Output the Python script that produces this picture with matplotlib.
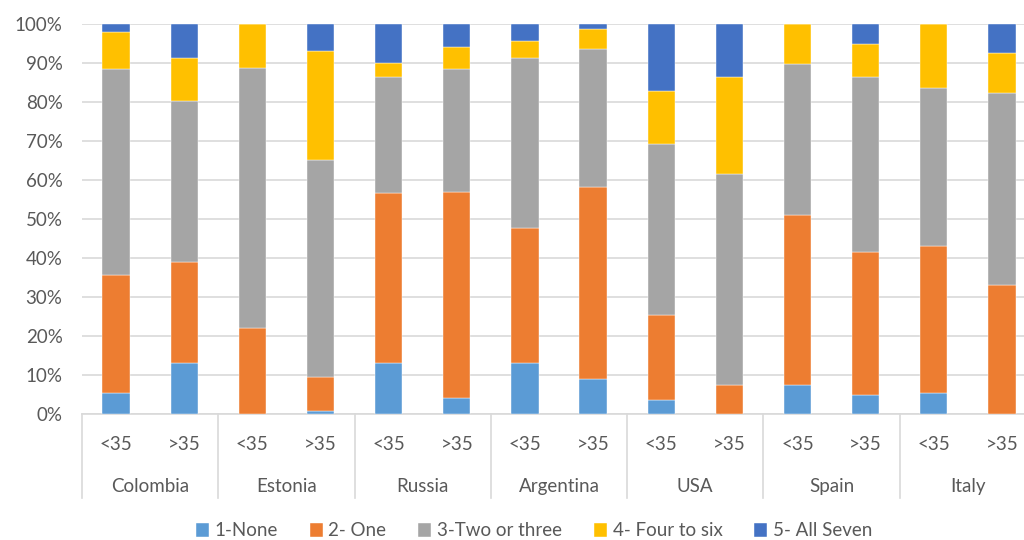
import numpy as np
import matplotlib
matplotlib.use("Agg")
import matplotlib.pyplot as plt
import matplotlib.transforms as mtransforms
from matplotlib.lines import Line2D

plt.rcParams['font.family'] = ['Lato', 'DejaVu Sans']

countries = ["Colombia", "Estonia", "Russia", "Argentina", "USA", "Spain", "Italy"]
ages = ["<35", ">35"]
series = ["1-None", "2- One", "3-Two or three", "4- Four to six", "5- All Seven"]

# share of respondents (%) per bar, order: country x age
none_ = [5.5, 13.0, 0.0, 0.7, 13.2, 4.2, 13.0, 8.9, 3.6, 0.0, 7.5, 4.8, 5.3, 0.0]
one = [30.1, 26.0, 22.1, 8.7, 43.4, 52.8, 34.7, 49.4, 21.7, 7.5, 43.6, 36.8, 37.9, 33.2]
two_three = [52.9, 41.3, 66.7, 55.8, 29.9, 31.5, 43.5, 35.2, 44.0, 54.0, 38.6, 44.9, 40.5, 49.2]
four_six = [9.5, 10.9, 11.2, 28.0, 3.5, 5.7, 4.4, 5.2, 13.5, 25.0, 10.3, 8.5, 16.3, 10.2]
all_seven = [2.0, 8.8, 0.0, 6.8, 10.0, 5.8, 4.4, 1.3, 17.2, 13.5, 0.0, 5.0, 0.0, 7.4]

colors = ["#5B9BD5", "#ED7D31", "#A5A5A5", "#FFC000", "#4472C4"]
txt = "#595959"
grid = "#D9D9D9"
fs = 13.5

data = np.array([none_, one, two_three, four_six, all_seven])
data = data / data.sum(axis=0) * 100

fig = plt.figure(figsize=(10.24, 5.4), dpi=100)
ax = fig.add_axes([82 / 1024, 126 / 540, 954 / 1024, 390 / 540])

x = np.arange(data.shape[1])
bottom = np.zeros(data.shape[1])
for vals, c, lab in zip(data, colors, series):
    ax.bar(x, vals, 0.4, bottom=bottom, color=c, label=lab, zorder=3,
           edgecolor="white", linewidth=0.3)
    bottom += vals

ax.set_xlim(-0.5, len(x) - 0.5)
ax.set_ylim(0, 100)
ax.set_yticks(np.arange(0, 101, 10))
ax.set_yticklabels([f"{v}%" for v in range(0, 101, 10)])
ax.yaxis.grid(True, color=grid, linewidth=1.2, zorder=0)
ax.tick_params(axis="y", length=0, pad=14, labelsize=fs, labelcolor=txt)
ax.set_xticks([])
for s in ["top", "right", "left"]:
    ax.spines[s].set_visible(False)
ax.spines["bottom"].set_color(grid)
ax.spines["bottom"].set_linewidth(1.2)

trans = mtransforms.blended_transform_factory(ax.transData, ax.transAxes)
for i in x:
    ax.text(i, -0.077, ages[i % 2], transform=trans, ha="center", va="center",
            fontsize=fs, color=txt)
for j, name in enumerate(countries):
    ax.text(2 * j + 0.5, -0.185, name, transform=trans, ha="center", va="center",
            fontsize=fs, color=txt)
for j in range(len(countries) + 1):
    ax.add_line(Line2D([2 * j - 0.5, 2 * j - 0.5], [0, -0.215], transform=trans,
                       color=grid, linewidth=1.2, clip_on=False))

leg = fig.legend(loc="center", bbox_to_anchor=(534 / 1024, 9 / 540), ncol=5,
                 frameon=False, fontsize=fs, handlelength=0.7, handleheight=0.7,
                 handletextpad=0.3, columnspacing=1.7)
for t in leg.get_texts():
    t.set_color(txt)

fig.savefig("out.png", dpi=100)
